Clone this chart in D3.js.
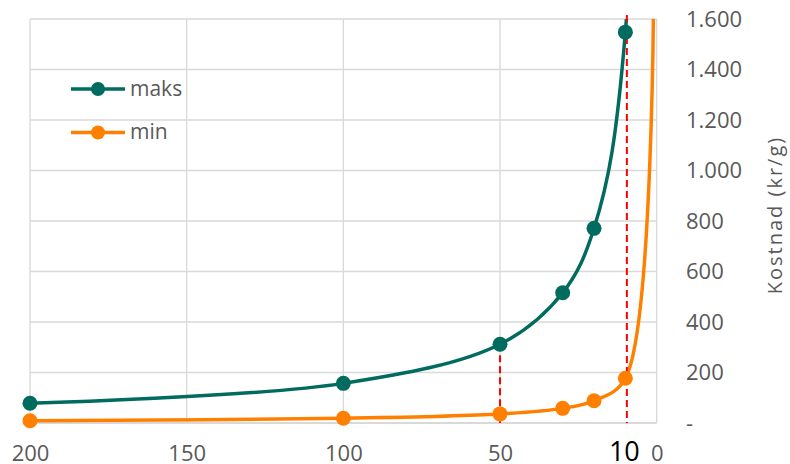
<!DOCTYPE html>
<html>

<head>
    <script src="https://d3js.org/d3.v7.min.js"></script>
    <meta charset="utf-8">
    <style>
        body { margin: 0; background: #fff; }
        text { font-family: "Open Sans", sans-serif; }
    </style>
</head>

<body>
    <div id="my_dataviz"></div>
    <script>
        // data (x = dose, y = kr/g)
        var xValues = [200, 100, 50, 30, 20, 10];
        var maks = [78, 157, 312, 516, 771, 1548];
        var min = [9, 19, 36, 58, 88, 177];
        // next point of each series lies above the top of the plot (estimated)
        var xBeyond = 1;
        var maksBeyond = 15450;
        var minBeyond = 1750;

        var xTicks = [200, 150, 100, 50, 0];
        var yTicks = [0, 200, 400, 600, 800, 1000, 1200, 1400, 1600];
        var markLines = [50, 10];
        var seriesNames = ["maks", "min"];

        var width = 790;
        var height = 464;

        var svg = d3.select("#my_dataviz")
            .append("svg")
            .attr("width", width)
            .attr("height", height);

        var x = d3.scaleLinear().domain([200, 0]).range([30, 656.7]);
        var y = d3.scaleLinear().domain([0, 1600]).range([423, 19]);

        var colors = { maks: "#006B5E", min: "#FF8000" };

        svg.append("defs").append("clipPath")
            .attr("id", "plot")
            .append("rect")
            .attr("x", x(200))
            .attr("y", y(1600))
            .attr("width", x(0) - x(200))
            .attr("height", y(0) - y(1600));

        // grid
        svg.append("g")
            .selectAll("line")
            .data(yTicks)
            .enter()
            .append("line")
            .attr("x1", x(200))
            .attr("x2", x(0))
            .attr("y1", d => y(d))
            .attr("y2", d => y(d))
            .style("stroke", "#d9d9d9")
            .style("stroke-width", d => d === 0 ? 2 : 1.3);

        svg.append("g")
            .selectAll("line")
            .data(xTicks)
            .enter()
            .append("line")
            .attr("x1", d => x(d))
            .attr("x2", d => x(d))
            .attr("y1", y(1600))
            .attr("y2", y(0))
            .style("stroke", "#d9d9d9")
            .style("stroke-width", 1.3);

        // y axis on the right, labels left aligned
        var yAxis = d3.axisRight(y)
            .tickValues(yTicks)
            .tickSize(0)
            .tickPadding(0)
            .tickFormat(d => d === 0 ? "-" : d3.format(",")(d).replace(/,/g, "."));

        svg.append("g")
            .attr("transform", "translate(686,0)")
            .call(yAxis)
            .call(g => g.select(".domain").remove())
            .selectAll("text")
            .style("font-family", "Open Sans")
            .style("font-size", "22px")
            .style("fill", "#595959");

        // x axis
        var xAxis = d3.axisBottom(x)
            .tickValues(xTicks)
            .tickSize(0)
            .tickPadding(0)
            .tickFormat(d3.format("d"));

        svg.append("g")
            .attr("transform", "translate(0,445.5)")
            .call(xAxis)
            .call(g => g.select(".domain").remove())
            .selectAll("text")
            .style("font-family", "Open Sans")
            .style("font-size", "22px")
            .style("fill", "#595959");

        svg.append("text")
            .attr("x", x(10) - 1)
            .attr("y", 461)
            .attr("text-anchor", "middle")
            .style("font-size", "27px")
            .style("fill", "#000")
            .text("10");

        svg.append("text")
            .attr("transform", "translate(782," + ((y(0) + y(1600)) / 2 - 6) + ") rotate(-90)")
            .attr("text-anchor", "middle")
            .style("font-size", "20px")
            .style("letter-spacing", "2px")
            .style("fill", "#595959")
            .text("Kostnad (kr/g)");

        // series
        var series = seriesNames.map(name => {
            var vals = name === "maks" ? maks : min;
            var pts = xValues.map((xv, i) => ({ x: xv, y: vals[i] }));
            var beyond = { x: xBeyond, y: name === "maks" ? maksBeyond : minBeyond };
            return { name: name, points: pts, line: pts.concat([beyond]) };
        });

        var line = d3.line()
            .x(d => x(d.x))
            .y(d => y(d.y))
            .curve(d3.curveCatmullRom);

        var plot = svg.append("g").attr("clip-path", "url(#plot)");

        plot.selectAll("path")
            .data(series)
            .enter()
            .append("path")
            .attr("d", d => line(d.line))
            .style("fill", "none")
            .style("stroke", d => colors[d.name])
            .style("stroke-width", 3.5);

        // red dashed marker lines
        svg.append("line")
            .attr("x1", x(markLines[0]))
            .attr("x2", x(markLines[0]))
            .attr("y1", y(maks[2]))
            .attr("y2", y(0))
            .style("stroke", "#ff0000")
            .style("stroke-width", 2)
            .style("stroke-dasharray", "7,4");

        svg.append("line")
            .attr("x1", x(markLines[1]) + 1.5)
            .attr("x2", x(markLines[1]) + 1.5)
            .attr("y1", y(1600) - 4)
            .attr("y2", y(0))
            .style("stroke", "#ff0000")
            .style("stroke-width", 2)
            .style("stroke-dasharray", "7,4");

        series.forEach(s => {
            svg.append("g")
                .selectAll("circle")
                .data(s.points)
                .enter()
                .append("circle")
                .attr("cx", d => x(d.x))
                .attr("cy", d => y(d.y))
                .attr("r", 7.5)
                .attr("fill", colors[s.name]);
        });

        // legend
        var legend = svg.append("g")
            .selectAll("g")
            .data(seriesNames)
            .enter()
            .append("g")
            .attr("transform", (d, i) => "translate(71," + (89 + i * 43.5) + ")");

        legend.append("line")
            .attr("x1", 0)
            .attr("x2", 54)
            .style("stroke", d => colors[d])
            .style("stroke-width", 3.5);

        legend.append("circle")
            .attr("cx", 27)
            .attr("r", 7)
            .attr("fill", d => colors[d]);

        legend.append("text")
            .attr("x", 59)
            .attr("dy", "0.32em")
            .style("font-size", "21px")
            .style("fill", "#595959")
            .text(d => d);
    </script>
</body>

</html>
